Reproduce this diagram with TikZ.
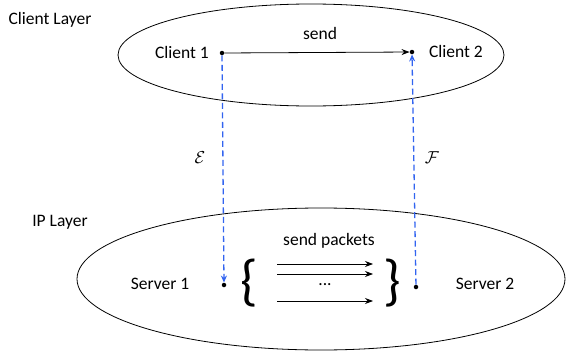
\documentclass[tikz,border=0pt]{standalone}
\usepackage{fontspec}
\setmainfont{Carlito}
\usetikzlibrary{arrows.meta}
\begin{document}
\begin{tikzpicture}[x=1pt,y=-1pt,
  lbl/.style={inner sep=0pt,font=\fontsize{17.5}{20}\selectfont},
  pt/.style={circle,fill=black,inner sep=0pt,minimum size=4.5pt},
  arr/.style={-{Stealth[length=8pt,width=6pt]},line width=0.8pt},
  bluedash/.style={dashed,dash pattern=on 6pt off 3.5pt,draw={rgb,255:red,50;green,100;blue,240},line width=1.3pt,-{Stealth[length=7pt,width=6pt]}},
  brace/.style={inner sep=0pt,font=\fontsize{56}{56}\selectfont}]
\useasboundingbox (0,0) rectangle (574,351);
\draw[line width=0.8pt] (311,55) ellipse [x radius=193, y radius=51];
\draw[line width=0.8pt] (321,279) ellipse [x radius=244, y radius=71];
\node[lbl] (cl) at (50,20) {Client Layer};
\node[lbl] (ipl) at (60,222) {IP Layer};
\node[lbl] (c1t) at (182,52) {Client 1};
\node[lbl] (c2t) at (456,51) {Client 2};
\node[pt] (c1) at (222,53) {};
\node[pt] (c2) at (412,52) {};
\draw[arr] (c1) -- (c2);
\node[lbl] (send) at (320,33) {send};
\node[lbl] (s1t) at (160,284) {Server 1};
\node[lbl] (s2t) at (485,284) {Server 2};
\node[pt] (s1) at (224,285) {};
\node[pt] (s2) at (416,287) {};
\draw[bluedash] (c1) -- (s1);
\draw[bluedash] (s2) -- (c2);
\node[lbl] (e) at (200,158) {$\mathcal{E}$};
\node[lbl] (f) at (432,158) {$\mathcal{F}$};
\node[brace] (lb) at (249,283) {\{};
\node[brace] (rb) at (392,283) {\}};
\coordinate (a1s) at (277,264); \coordinate (a1e) at (373,264);
\coordinate (a2s) at (277,274); \coordinate (a2e) at (373,274);
\coordinate (a3s) at (277,301); \coordinate (a3e) at (373,301);
\draw[arr] (a1s) -- (a1e);
\draw[arr] (a2s) -- (a2e);
\draw[arr] (a3s) -- (a3e);
\node[lbl] (dots) at (325,285) {...};
\node[lbl] (sp) at (329,241) {send packets};
\end{tikzpicture}
\end{document}
